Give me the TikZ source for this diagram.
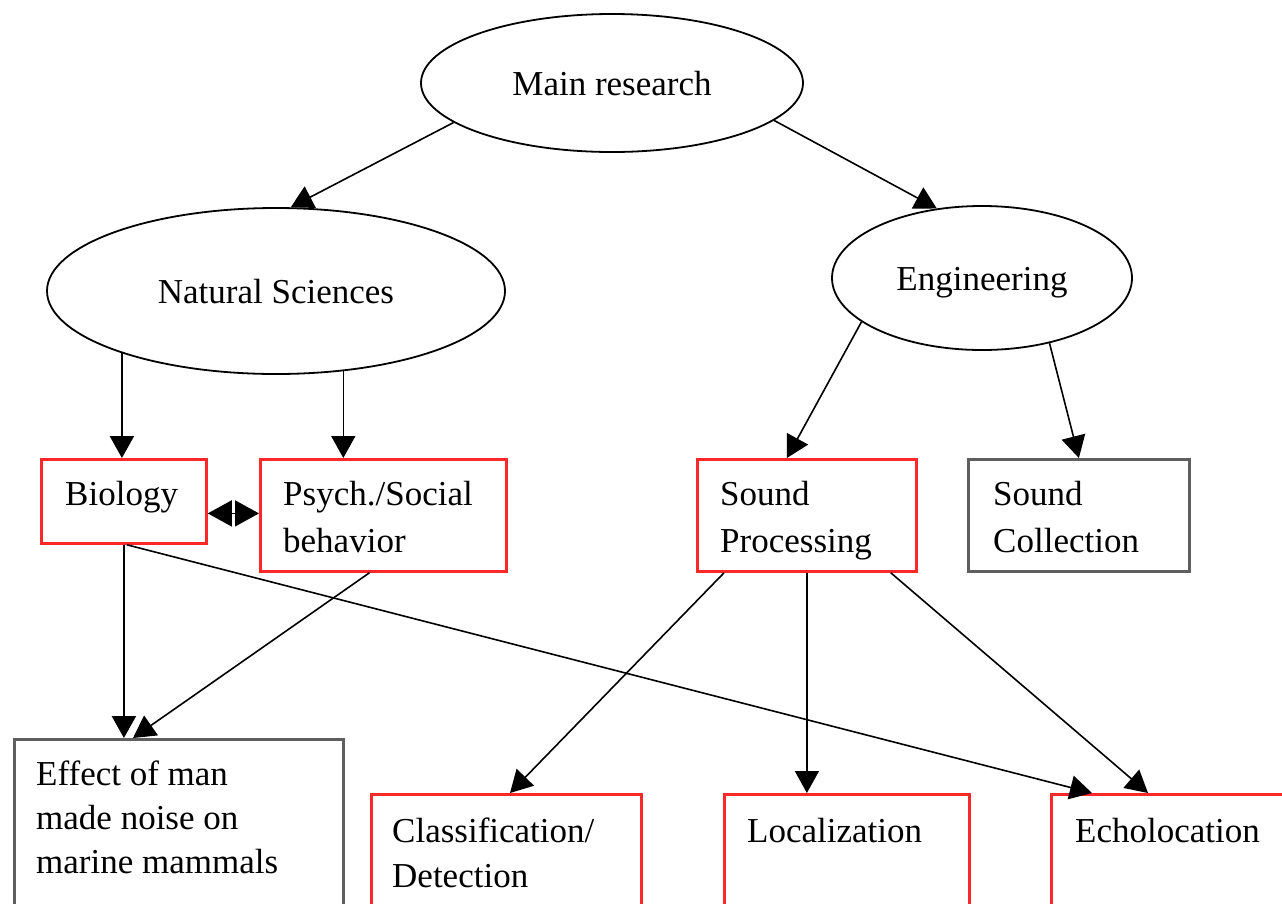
\documentclass[tikz,border=0pt]{standalone}
\usepackage{fontspec}
\setmainfont{Liberation Serif}
\usetikzlibrary{arrows.meta,shapes.geometric,calc}
\definecolor{boxred}{RGB}{255,40,40}
\definecolor{boxgray}{RGB}{95,95,95}
\begin{document}
\begin{tikzpicture}[x=1pt,y=-1pt,
  every node/.style={font=\fontsize{35}{45}\selectfont},
  oval/.style={draw, ellipse, line width=1.8pt, inner sep=0pt, text height=24pt, text depth=0pt},
  redbox/.style={draw=boxred, line width=2.8pt, rectangle, anchor=north west, inner sep=0pt},
  graybox/.style={draw=boxgray, line width=2.8pt, rectangle, anchor=north west, inner sep=0pt},
  lbl/.style={anchor=base west, align=left, inner sep=0pt},
  arr/.style={-{Triangle[length=22pt,width=24pt]}, line width=1.6pt},
  thickarr/.style={-{Triangle[length=22pt,width=24pt]}, line width=2.4pt},
]
\useasboundingbox (0,0) rectangle (1282,903);
\clip (0,0) rectangle (1282,903);
\fill[white] (0,0) rectangle (1282,903);

% ellipses
\node[oval, minimum width=382pt, minimum height=138pt] (main) at (612,83) {Main research};
\node[oval, minimum width=458pt, minimum height=166pt] (ns) at (276,291) {Natural Sciences};
\node[oval, minimum width=300pt, minimum height=144pt] (eng) at (982,278) {Engineering};

% boxes
\node[redbox, minimum width=165pt, minimum height=84pt] (bio) at (40,458) {};
\node[redbox, minimum width=246pt, minimum height=112pt] (psy) at (259,458) {};
\node[redbox, minimum width=219pt, minimum height=112pt] (sp) at (696,458) {};
\node[graybox, minimum width=221pt, minimum height=112pt] (sc) at (967,458) {};
\node[graybox, minimum width=329pt, minimum height=200pt] (eff) at (13,738) {};
\node[redbox, minimum width=270pt, minimum height=150pt] (cls) at (370,793) {};
\node[redbox, minimum width=245pt, minimum height=150pt] (loc) at (723,793) {};
\node[redbox, minimum width=260pt, minimum height=150pt] (echo) at (1050,793) {};

% box texts (base anchor = baseline of last line)
\node[lbl] (biot) at (65,505) {Biology};
\node[lbl, font=\fontsize{35}{47}\selectfont] (psyt) at (283,552) {Psych./Social\\behavior};
\node[lbl, font=\fontsize{35}{47}\selectfont] (spt) at (720,552) {Sound\\Processing};
\node[lbl, font=\fontsize{35}{47}\selectfont] (sct) at (993,552) {Sound\\Collection};
\node[lbl, font=\fontsize{35}{44}\selectfont] (efft) at (36,873) {Effect of man\\made noise on\\marine mammals};
\node[lbl] (clst) at (392,887) {Classification/\\Detection};
\node[lbl] (loct) at (747,842) {Localization};
\node[lbl] (echot) at (1075,842) {Echolocation};

% connectors
\draw[arr] (main.194) -- (ns.80);
\draw[arr] (main.347) -- (eng.123);
\draw[thickarr] (ns.202) -- (ns.202 |- bio.north);
\draw[arr] (ns.-50) -- (ns.-50 |- psy.north);
\draw[arr] (eng.200) -- ($(sp.north)+(-20,0)$);
\draw[arr] (eng.-44) -- (sc.north);
\coordinate (dbl) at ($(bio.east)+(0,12)$);
\draw[{Triangle[length=24pt,width=26pt]}-{Triangle[length=24pt,width=26pt]}, line width=1.6pt] (dbl) -- (dbl -| psy.west);
\draw[thickarr] (bio.south) -- (bio.south |- eff.north);
\draw[arr] ($(psy.south)+(-14,0)$) -- ($(eff.north west)+(120,0)$);
\draw[arr] ($(bio.south)+(3,0)$) -- ($(echo.north west)+(42,0)$);
\draw[arr] ($(sp.south west)+(28,0)$) -- ($(cls.north west)+(140,0)$);
\draw[arr] (sp.south) -- (sp.south |- loc.north);
\draw[arr] ($(sp.south east)+(-27,0)$) -- ($(echo.north west)+(98,0)$);
\end{tikzpicture}
\end{document}
